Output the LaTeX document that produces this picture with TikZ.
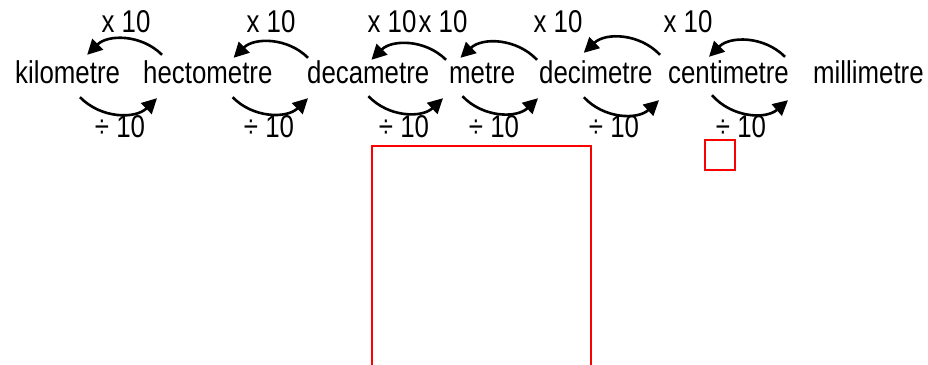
\documentclass[tikz,border=0pt]{standalone}
\usepackage{fontspec}
\usetikzlibrary{arrows.meta}
\newfontfamily\unitfont[FakeStretch=0.82]{Liberation Sans}

\tikzset{
  unit/.style={inner sep=0pt, text height=22pt, text depth=6pt, anchor=base west,
    font=\unitfont\fontsize{31.5}{36}\selectfont},
  lbl/.style={inner sep=0pt, anchor=base, font=\unitfont\fontsize{31.5}{36}\selectfont},
  arc/.style={line width=2.6pt, -{Triangle[length=15pt,width=15pt]}},
  redbox/.style={draw=red, line width=2.8pt}
}

\begin{document}
\begin{tikzpicture}[x=1pt,y=1pt]
    \useasboundingbox (0,0) rectangle (928,-364);

    % units
    \node[unit] (km)  at (15,-83)  {kilometre};
    \node[unit] (hm)  at (143,-83) {hectometre};
    \node[unit] (dam) at (307,-83) {decametre};
    \node[unit] (m)   at (449,-83) {metre};
    \node[unit] (dm)  at (539,-83) {decimetre};
    \node[unit] (cm)  at (668,-83) {centimetre};
    \node[unit] (mm)  at (813,-83) {millimetre};

    % x 10 arrows
    \draw[arc] ([shift={(19,6)}]hm.north west)  to[bend right=45] ([shift={(-33,6)}]km.north east);
    \draw[arc] ([shift={(1,3)}]dam.north west)  to[bend right=45] ([shift={(-39,3)}]hm.north east);
    \draw[arc] ([shift={(-3,1)}]m.north west)   to[bend right=45] ([shift={(-58,1)}]dam.north east);
    \draw[arc] ([shift={(-2,1)}]dm.north west)  to[bend right=45] ([shift={(-55,3)}]m.north east);
    \draw[arc] ([shift={(-8,6)}]cm.north west)  to[bend right=45] ([shift={(-69,8)}]dm.north east);
    \draw[arc] ([shift={(-28,4)}]mm.north west) to[bend right=45] ([shift={(-80,4)}]cm.north east);

    % divide arrows
    \draw[arc] ([shift={(65,-8)}]km.south west)  to[bend right=45] ([shift={(14,-9)}]hm.south west);
    \draw[arc] ([shift={(-40,-8)}]hm.south east) to[bend right=45] ([shift={(1,-9)}]dam.south west);
    \draw[arc] ([shift={(-61,-7)}]dam.south east) to[bend right=45] ([shift={(-6,-9)}]m.south west);
    \draw[arc] ([shift={(-53,-7)}]m.south east)  to[bend right=45] ([shift={(-1,-9)}]dm.south west);
    \draw[arc] ([shift={(-69,-8)}]dm.south east) to[bend right=45] ([shift={(-9,-11)}]cm.south west);
    \draw[arc] ([shift={(-77,-6)}]cm.south east) to[bend right=45] ([shift={(-25,-11)}]mm.south west);

    % labels
    \node[lbl] (x1) at (126,-32) {x 10};
    \node[lbl] (x2) at (271,-32) {x 10};
    \node[lbl] (x3) at (392,-32) {x 10};
    \node[lbl] (x4) at (443,-32) {x 10};
    \node[lbl] (x5) at (558,-32) {x 10};
    \node[lbl] (x6) at (688,-32) {x 10};
    \node[lbl] (d1) at (120,-137) {÷ 10};
    \node[lbl] (d2) at (269,-137) {÷ 10};
    \node[lbl] (d3) at (404,-137) {÷ 10};
    \node[lbl] (d4) at (494,-137) {÷ 10};
    \node[lbl] (d5) at (614,-137) {÷ 10};
    \node[lbl] (d6) at (741,-137) {÷ 10};

    % boxes
    \draw[redbox] (372,-146) rectangle (591,-368);
    \draw[redbox] (705,-140) rectangle (735,-170);
\end{tikzpicture}
\end{document}
